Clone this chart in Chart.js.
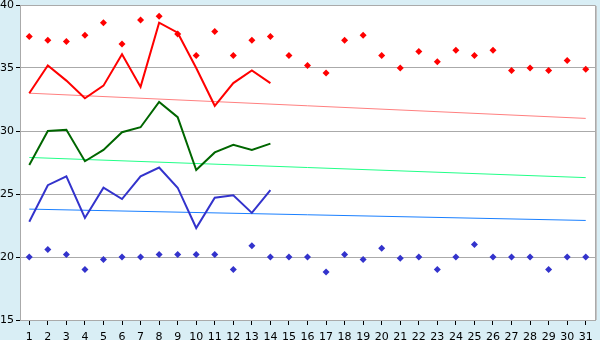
<!DOCTYPE html>
<html>
<head>
<meta charset="utf-8">
<script src="https://cdn.jsdelivr.net/npm/chart.js@4/dist/chart.umd.min.js"></script>
<style>
html,body{margin:0;padding:0;background:#D9EEF5;}
#wrap{width:600px;height:340px;}
</style>
</head>
<body>
<div id="wrap"><canvas id="c" width="600" height="340"></canvas></div>
<script>
const days = ['1','2','3','4','5','6','7','8','9','10','11','12','13','14','15','16','17','18','19','20','21','22','23','24','25','26','27','28','29','30','31'];
const maxPoints = [37.5,37.2,37.1,37.6,38.6,36.9,38.8,39.1,37.7,36.0,37.9,36.0,37.2,37.5,36.0,35.2,34.6,37.2,37.6,36.0,35.0,36.3,35.5,36.4,36.0,36.4,34.8,35.0,34.8,35.6,34.9];
const minPoints = [20.0,20.6,20.2,19.0,19.8,20.0,20.0,20.2,20.2,20.2,20.2,19.0,20.9,20.0,20.0,20.0,18.8,20.2,19.8,20.7,19.9,20.0,19.0,20.0,21.0,20.0,20.0,20.0,19.0,20.0,20.0];
const redLine = [33.0,35.2,34.0,32.6,33.6,36.1,33.5,38.6,37.8,35.0,32.0,33.8,34.8,33.8];
const greenLine = [27.3,30.0,30.1,27.6,28.5,29.9,30.3,32.3,31.1,26.9,28.3,28.9,28.5,29.0];
const blueLine = [22.8,25.7,26.4,23.1,25.5,24.6,26.4,27.1,25.5,22.3,24.7,24.9,23.5,25.3];
const redTrendEnds = [33.0,31.0];
const greenTrendEnds = [27.9,26.3];
const blueTrendEnds = [23.8,22.9];
const yTicks = [15,20,25,30,35,40];

function trend(ends){
  const a = days.map(()=>null);
  a[0]=ends[0]; a[a.length-1]=ends[1];
  return a;
}

const plotBg = {
  id:'plotBg',
  beforeDraw(chart){
    const {ctx, chartArea:a} = chart;
    ctx.save();
    ctx.fillStyle='#ffffff';
    ctx.fillRect(a.left,a.top,a.right-a.left,a.bottom-a.top);
    ctx.restore();
  },
  afterDraw(chart){
    const {ctx, chartArea:a} = chart;
    ctx.save();
    ctx.strokeStyle='#aaaaaa';
    ctx.lineWidth=1;
    ctx.beginPath();
    ctx.moveTo(a.left+0.5,a.top+0.5);
    ctx.lineTo(a.right+0.5,a.top+0.5);
    ctx.lineTo(a.right+0.5,a.bottom);
    ctx.stroke();
    ctx.strokeStyle='#c4c4c4';
    ctx.beginPath();
    ctx.moveTo(a.right+1.5,a.top+1);
    ctx.lineTo(a.right+1.5,a.bottom);
    ctx.stroke();
    ctx.restore();
  }
};

const font = {family:'DejaVu Sans', size:11};

new Chart(document.getElementById('c'), {
  type:'line',
  data:{
    labels:days,
    datasets:[
      {data:maxPoints, showLine:false, pointStyle:'rectRot', pointRadius:3.5, pointBackgroundColor:'#ff0000', pointBorderColor:'#ff0000', borderWidth:0},
      {data:minPoints, showLine:false, pointStyle:'rectRot', pointRadius:3.5, pointBackgroundColor:'#3333cc', pointBorderColor:'#3333cc', borderWidth:0},
      {data:redLine, borderColor:'#ff0000', borderWidth:2, pointRadius:0, tension:0},
      {data:greenLine, borderColor:'#006600', borderWidth:2, pointRadius:0, tension:0},
      {data:blueLine, borderColor:'#3333cc', borderWidth:2, pointRadius:0, tension:0},
      {data:trend(redTrendEnds), borderColor:'#ff8080', borderWidth:1, pointRadius:0, spanGaps:true},
      {data:trend(greenTrendEnds), borderColor:'#22ff88', borderWidth:1, pointRadius:0, spanGaps:true},
      {data:trend(blueTrendEnds), borderColor:'#1a80ff', borderWidth:1, pointRadius:0, spanGaps:true}
    ]
  },
  options:{
    responsive:false,
    animation:false,
    layout:{padding:{top:0,right:5,left:0,bottom:0}},
    plugins:{legend:{display:false}, tooltip:{enabled:false}},
    scales:{
      x:{
        offset:true,
        grid:{offset:false, drawOnChartArea:false, drawTicks:true, tickLength:5, tickColor:'#000000'},
        border:{color:'#aaaaaa'},
        ticks:{color:'#000000', font:font, padding:6, maxRotation:0, autoSkip:false},
        afterFit(s){s.height=20;}
      },
      y:{
        min:15, max:40,
        afterBuildTicks(s){s.ticks = yTicks.map(v=>({value:v}));},
        grid:{color:'#aaaaaa', tickColor:'#000000', tickLength:4, drawTicks:true},
        border:{color:'#aaaaaa'},
        ticks:{color:'#000000', font:font, padding:2},
        afterFit(s){s.width=20; s.paddingTop=5;}
      }
    }
  },
  plugins:[plotBg]
});
</script>
</body>
</html>
